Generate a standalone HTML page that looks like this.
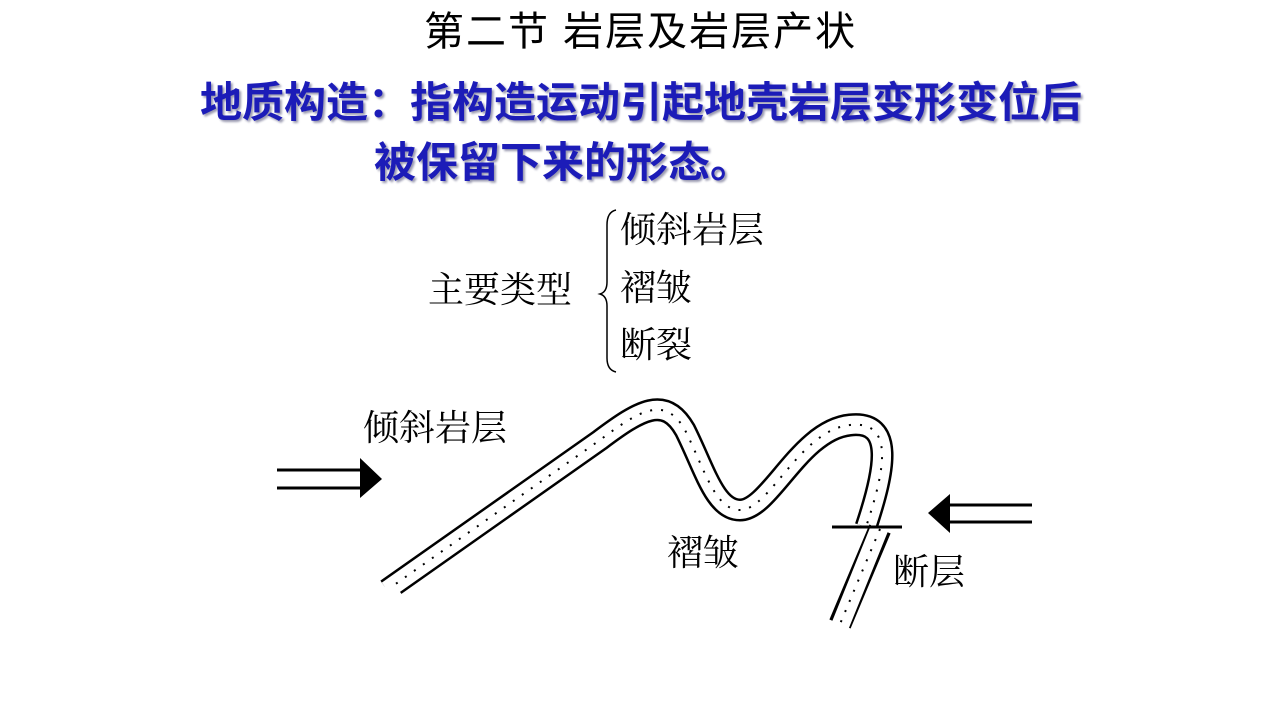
<!DOCTYPE html>
<html><head><meta charset="utf-8"><style>
html,body{margin:0;padding:0;background:#fff;}
body{width:1280px;height:720px;position:relative;overflow:hidden;}
.t{position:absolute;white-space:nowrap;line-height:1;}
.serif{font-family:"Liberation Serif","Noto Serif CJK SC",serif;font-size:36px;color:#000;}
.blue{font-family:"Liberation Sans","Noto Sans CJK SC",sans-serif;font-weight:bold;font-size:42px;color:#1c1cb8;letter-spacing:0px;text-shadow:2px 2px 2px #9a9ab0;}
</style></head><body>
<div class="t" style="left:424px;top:12px;font-family:'Liberation Sans','Noto Sans CJK SC',sans-serif;font-size:40px;letter-spacing:2px;">第二节 岩层及岩层产状</div>
<div class="t blue" style="left:200px;top:82px;">地质构造：指构造运动引起地壳岩层变形变位后</div>
<div class="t blue" style="left:374px;top:142px;">被保留下来的形态。</div>
<div class="t serif" style="left:428px;top:272px;">主要类型</div>
<div class="t serif" style="left:620px;top:212px;">倾斜岩层</div>
<div class="t serif" style="left:620px;top:270px;">褶皱</div>
<div class="t serif" style="left:620px;top:327px;">断裂</div>
<div class="t serif" style="left:363px;top:410px;">倾斜岩层</div>
<div class="t serif" style="left:667px;top:535px;">褶皱</div>
<div class="t serif" style="left:893px;top:554px;">断层</div>
<svg width="1280" height="720" style="position:absolute;left:0;top:0">
<path d="M616,210 Q607,212 607,225 L607,282 Q607,292 600,294 Q607,296 607,306 L607,358 Q607,370 616,372" fill="none" stroke="#000" stroke-width="1.5"/>
<g fill="none" stroke-linejoin="round">
<path d="M387,590 L600,440 C640,410 665,395 685,430 C705,470 715,510 740,510 C770,510 800,430 850,425 C895,420 885,470 866,527" stroke="#000" stroke-width="23"/>
<path d="M387,590 L600,440 C640,410 665,395 685,430 C705,470 715,510 740,510 C770,510 800,430 850,425 C895,420 885,470 866,527" stroke="#fff" stroke-width="18"/>
<path d="M387,590 L600,440 C640,410 665,395 685,430 C705,470 715,510 740,510 C770,510 800,430 850,425 C895,420 885,470 866,527" stroke="#000" stroke-width="2" stroke-dasharray="2 9"/>
<path d="M880,529 L840,624" stroke="#000" stroke-width="23"/>
<path d="M880,527 L840,626" stroke="#fff" stroke-width="18"/>
<path d="M880,529 L840,624" stroke="#000" stroke-width="2" stroke-dasharray="2 9"/>
</g>
<rect x="380" y="585" width="20" height="20" fill="#fff" transform="rotate(-35 390 595)"/>
<line x1="832" y1="527" x2="902" y2="527" stroke="#000" stroke-width="3"/>
<line x1="277" y1="470" x2="362" y2="470" stroke="#000" stroke-width="3"/>
<line x1="277" y1="488" x2="362" y2="488" stroke="#000" stroke-width="3"/>
<polygon points="360,458 382,479 360,498" fill="#000"/>
<line x1="948" y1="505" x2="1032" y2="505" stroke="#000" stroke-width="3"/>
<line x1="948" y1="522" x2="1032" y2="522" stroke="#000" stroke-width="3"/>
<polygon points="950,494 928,513 950,533" fill="#000"/>
</svg>
</body></html>
